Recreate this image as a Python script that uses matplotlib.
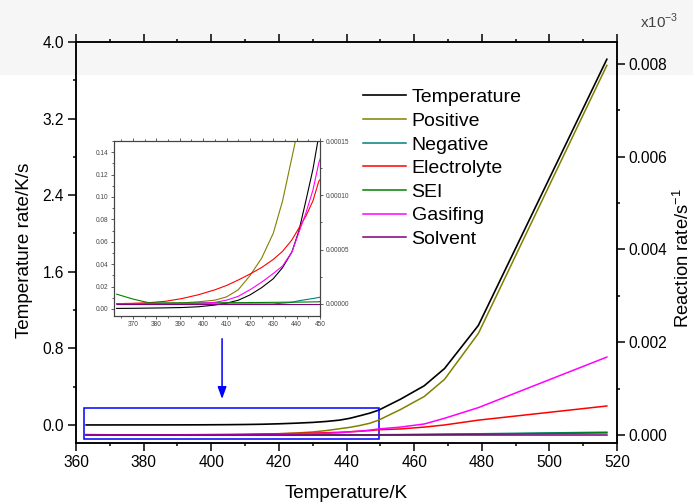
import matplotlib
matplotlib.use("Agg")
import matplotlib.pyplot as plt
from matplotlib.patches import Rectangle
from matplotlib.ticker import MultipleLocator, FormatStrFormatter
import numpy as np

plt.rcParams["font.family"] = ["Liberation Sans", "DejaVu Sans"]
plt.rcParams["mathtext.fontset"] = "custom"
plt.rcParams["mathtext.rm"] = "Liberation Sans"

# temperature nodes (K)
temp_k = [363, 370, 377, 384, 391, 398, 405, 410, 415, 420, 425, 430, 434, 438,
          441, 444, 447, 449.5, 456, 463, 469, 479, 517]

# temperature rate (K/s), left axis
temp_rate = [0.0005, 0.0006, 0.0008, 0.001, 0.0013, 0.002, 0.0035, 0.0052, 0.0078,
             0.0125, 0.019, 0.027, 0.037, 0.051, 0.070, 0.097, 0.125, 0.155,
             0.27, 0.41, 0.59, 1.04, 3.82]

# reaction rates (1e-5 /s), right axis
positive = [0.0, 0.0, 0.02, 0.05, 0.1, 0.2, 0.35, 0.65, 1.3, 2.6, 4.2, 6.5, 9.5,
            13.5, 16.5, 20.5, 25.5, 32.0, 55.0, 83.0, 120.0, 219.0, 797.0]
negative = [0.0, 0.0, 0.0, 0.0, 0.0, 0.0, 0.0, 0.0, 0.0, 0.0, 0.0, 0.0, 0.08, 0.15,
            0.3, 0.4, 0.5, 0.6, 0.9, 1.3, 1.8, 2.6, 6.0]
electrolyte = [0.03, 0.06, 0.12, 0.25, 0.5, 0.85, 1.3, 1.7, 2.2, 2.75, 3.35, 4.1,
               4.85, 5.9, 7.0, 8.1, 9.5, 11.3, 13.0, 17.0, 21.6, 32.0, 62.5]
sei = [0.9, 0.45, 0.1, 0.1, 0.1, 0.1, 0.11, 0.12, 0.12, 0.13, 0.14, 0.15, 0.16,
       0.17, 0.17, 0.18, 0.19, 0.2, 0.45, 0.8, 1.2, 1.8, 4.5]
gasifing = [0.0, 0.0, 0.0, 0.0, 0.0, 0.05, 0.15, 0.35, 0.7, 1.3, 2.0, 2.8, 3.5,
            4.8, 6.6, 8.4, 10.5, 13.0, 17.0, 23.7, 36.0, 59.0, 168.0]
solvent = [0.0] * 23

series = [
    ("Positive", positive, "#808000"),
    ("Negative", negative, "#008080"),
    ("Electrolyte", electrolyte, "#ff0000"),
    ("SEI", sei, "#008000"),
    ("Gasifing", gasifing, "#ff00ff"),
    ("Solvent", solvent, "#800080"),
]

W, H = 693, 504
fig = plt.figure(figsize=(W / 100, H / 100), dpi=100)
fig.patches.append(Rectangle((0, 1 - 75 / H), 1, 75 / H, transform=fig.transFigure,
                             facecolor="#f6f6f6", edgecolor="none", zorder=-5))

ax = fig.add_axes([76 / W, 1 - 443 / H, 541 / W, 401 / H])
ax.patch.set_alpha(0)
ax2 = ax.twinx()

T = np.array(temp_k)
ax.plot(T, temp_rate, color="black", lw=1.2, label="Temperature")
for name, vals, col in series:
    ax2.plot(T, np.array(vals) * 1e-5, color=col, lw=1.1, label=name)

ax.set_xlim(360, 520)
ax.set_ylim(-0.188, 4.0)
ax2.set_ylim(-0.000173, 0.008474)

ax.xaxis.set_major_locator(MultipleLocator(20))
ax.xaxis.set_minor_locator(MultipleLocator(10))
ax.yaxis.set_major_locator(MultipleLocator(0.8))
ax.yaxis.set_minor_locator(MultipleLocator(0.4))
ax.yaxis.set_major_formatter(FormatStrFormatter("%.1f"))
ax2.yaxis.set_major_locator(MultipleLocator(0.002))
ax2.yaxis.set_minor_locator(MultipleLocator(0.001))
ax2.yaxis.set_major_formatter(FormatStrFormatter("%.3f"))

for a in (ax, ax2):
    for s in a.spines.values():
        s.set_linewidth(1.1)
ax.tick_params(which="both", direction="out", labelsize=11.2, width=1.1, top=True)
ax.tick_params(which="major", length=5.5, pad=3)
ax.tick_params(which="minor", length=2.5)
ax2.tick_params(which="both", direction="out", labelsize=11.2, width=1.1)
ax2.tick_params(which="major", length=5.5, pad=3)
ax2.tick_params(which="minor", length=2.5)

ax.set_xlabel("Temperature/K", fontsize=13.6)
ax.xaxis.set_label_coords(0.5, -0.105)
ax.set_ylabel("Temperature rate/K/s", fontsize=13.6)
ax.yaxis.set_label_coords(-0.080, 0.481)
ax2.set_ylabel("Reaction rate/s$^{-1}$", fontsize=13.2)
ax2.yaxis.set_label_coords(1.103, 0.461)
fig.text(640 / W, 1 - 28 / H, "x10$^{-3}$", fontsize=11, color="#444444")

# zoom box and arrow
ax.add_patch(Rectangle((362.3, -0.146), 449.5 - 362.3, 0.178 + 0.146,
                       fill=False, edgecolor="#0000ff", lw=1.1, zorder=5))
ax.annotate("", xy=(403.2, 0.243), xytext=(403.2, 0.93),
            arrowprops=dict(arrowstyle="-|>,head_length=0.6,head_width=0.22",
                            color="#0000ff", lw=1.1, mutation_scale=12))

h1, l1 = ax.get_legend_handles_labels()
h2, l2 = ax2.get_legend_handles_labels()
ax2.legend(h1 + h2, l1 + l2, loc="upper left", bbox_to_anchor=(0.516, 0.903),
           frameon=False, fontsize=14, handlelength=2.2, handletextpad=0.3,
           labelspacing=0.31, borderaxespad=0)

# inset
ins = fig.add_axes([114.3 / W, 1 - 315.7 / H, 205.7 / W, 174.7 / H])
ins2 = ins.twinx()
ins.plot(T, temp_rate, color="black", lw=0.8)
for name, vals, col in series:
    ins2.plot(T, np.array(vals) * 1e-5, color=col, lw=0.8)
ins.set_xlim(362, 450)
ins.set_ylim(-0.006, 0.150)
ins2.set_ylim(-1.08e-5, 1.5e-4)
ins.xaxis.set_major_locator(MultipleLocator(10))
ins.xaxis.set_minor_locator(MultipleLocator(5))
ins.yaxis.set_major_locator(MultipleLocator(0.02))
ins.yaxis.set_minor_locator(MultipleLocator(0.01))
ins.yaxis.set_major_formatter(FormatStrFormatter("%.2f"))
ins2.yaxis.set_major_locator(MultipleLocator(5e-5))
ins2.yaxis.set_minor_locator(MultipleLocator(2.5e-5))
ins2.yaxis.set_major_formatter(FormatStrFormatter("%.5f"))
for a in (ins, ins2):
    for s in a.spines.values():
        s.set_linewidth(0.8)
        s.set_color("#444444")
    a.tick_params(which="both", direction="out", labelsize=4.7, width=0.6,
                  colors="#444444", pad=1.5)
    a.tick_params(which="major", length=2.5)
    a.tick_params(which="minor", length=1.5)
ins.tick_params(which="both", top=True)

fig.savefig("out.png", dpi=100)
